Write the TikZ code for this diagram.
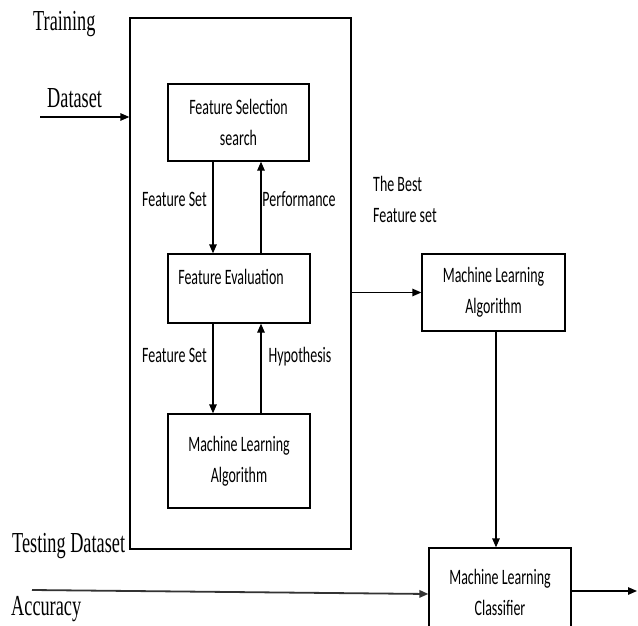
\documentclass[tikz,border=0pt]{standalone}
\usepackage{fontspec}
\newfontfamily\calib{Carlito}[FakeStretch=0.635]
\newfontfamily\timesf{Liberation Serif}[FakeStretch=0.63]
\usetikzlibrary{arrows.meta}
\begin{document}
\begin{tikzpicture}[x=1pt,y=-1pt,
  box/.style={draw, line width=1.3pt, inner sep=0pt, align=center,
    font=\calib\fontsize{22}{31}\selectfont},
  lbl/.style={font=\calib\fontsize{22}{31}\selectfont, inner sep=0pt, anchor=base},
  serif/.style={font=\timesf\fontsize{29}{33}\selectfont, inner sep=0pt, anchor=base west},
  conn/.style={line width=1.3pt, -{Triangle[length=9pt,width=7.5pt]}},
  accl/.style={line width=1.8pt, draw=black!80, -{Triangle[length=9pt,width=7.5pt]}},
]
\useasboundingbox (0,0) rectangle (638,626);

% boxes
\node[box, minimum width=221pt, minimum height=531pt] (outer) at (240.5,283.5) {};
\node[box, minimum width=141pt, minimum height=77pt] (fs) at (238.5,122.5) {Feature Selection\\search};
\node[draw, line width=1.3pt, inner sep=0pt, font=\calib\fontsize{22}{31}\selectfont,
      text height=15pt, text depth=24pt,
      minimum width=142pt, minimum height=69pt] (fe) at (239,288.5) {Feature Evaluation\hspace*{16pt}};
\node[box, minimum width=142pt, minimum height=94pt] (ml) at (239,461) {Machine Learning\\Algorithm};
\node[box, minimum width=143pt, minimum height=77pt] (box2) at (493.5,292.5) {Machine Learning\\Algorithm};
\node[box, minimum width=142pt, minimum height=88pt] (cl) at (500,592) {Machine Learning\\Classifier};

% plain texts
\node[serif] (training) at (33,31) {Training};
\node[serif] (dataset) at (47,107) {Dataset};
\node[serif] (testing) at (12,552) {Testing Dataset};
\node[serif] (accuracy) at (11,615) {Accuracy};
\node[font=\calib\fontsize{22}{31}\selectfont, inner sep=0pt, align=left, anchor=north west]
  (best) at (373,176) {The Best\\Feature set};

% connector labels
\node[lbl] (fset1) at (174.5,206) {Feature Set};
\node[lbl] (perf) at (299,206) {Performance};
\node[lbl] (fset2) at (174.5,362) {Feature Set};
\node[lbl] (hyp) at (300,362) {Hypothesis};

% helper coordinates
\coordinate (din) at (40,117);
\coordinate (c1) at (213,0);
\coordinate (c2) at (261,0);
\coordinate (c3) at (496,0);
\coordinate (acc) at (32,590);
\coordinate (ain) at (0,594);
\coordinate (out) at (637,591);

% connectors
\draw[conn] (din) -- (din -| outer.west);
\draw[conn] (fs.south -| c1) -- (fe.north -| c1);
\draw[conn] (fe.north -| c2) -- (fs.south -| c2);
\draw[conn] (fe.south -| c1) -- (ml.north -| c1);
\draw[conn] (ml.north -| c2) -- (fe.south -| c2);
\draw[conn] (box2.west -| outer.east) -- (box2.west);
\draw[conn] (box2.south -| c3) -- (cl.north -| c3);
\draw[accl] (acc) -- (cl.west |- ain);
\draw[conn] (cl.east |- out) -- (out);
\end{tikzpicture}
\end{document}
